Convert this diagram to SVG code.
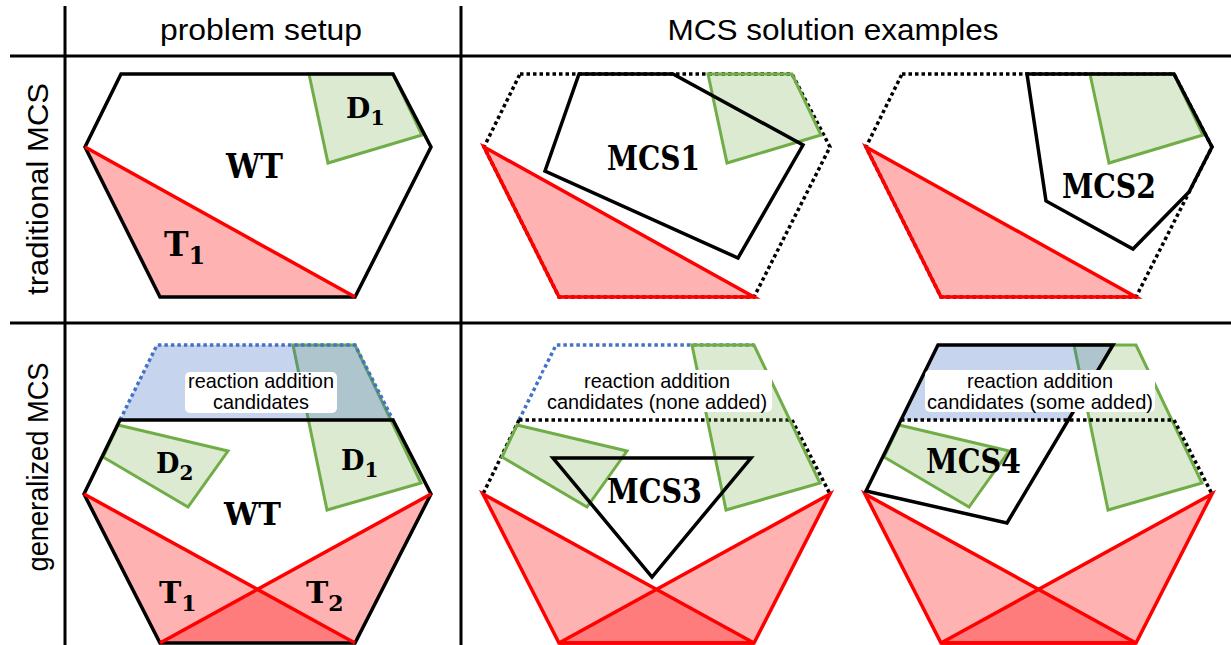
<svg xmlns="http://www.w3.org/2000/svg" width="1231" height="645" viewBox="0 0 1231 645">
<style>
.grid{stroke:#000;stroke-width:3;fill:none}
.hex{fill:none;stroke:#000;stroke-width:3.5;stroke-linejoin:miter}
.dot{fill:none;stroke:#000;stroke-width:3.5;stroke-dasharray:3.5 3}
.bdot{fill:none;stroke:#4472c4;stroke-width:3.5;stroke-dasharray:3.5 3}
.redf{fill:#ff0000;fill-opacity:.3;stroke:none}
.red{fill:#ff0000;fill-opacity:.3;stroke:#ff0000;stroke-width:3.5;stroke-linejoin:miter}
.redl{stroke:#ff0000;stroke-width:3.5;fill:none}
.grn{fill:#70ad47;fill-opacity:.25;stroke:#70ad47;stroke-width:3}
.blu{fill:#4472c4;fill-opacity:.3;stroke:none}
.mcs{fill:none;stroke:#000;stroke-width:3.5;stroke-linejoin:miter}
.box{fill:#fff;stroke:none}
.lbl{font-family:"DejaVu Serif","Liberation Serif",serif;font-weight:bold;fill:#000}
.sm{font-family:"Liberation Sans",Arial,sans-serif;font-size:21px;text-anchor:middle;fill:#000}
.hdr{font-family:"Liberation Sans",Arial,sans-serif;font-size:30px;text-anchor:middle;fill:#000}
</style>
<rect width="1231" height="645" fill="#fff"/>

<g id="grid">
  <line class="grid" x1="65" y1="6" x2="65" y2="645"/>
  <line class="grid" x1="461" y1="6" x2="461" y2="645"/>
  <line class="grid" x1="10" y1="56" x2="1231" y2="56"/>
  <line class="grid" x1="10" y1="323" x2="1231" y2="323"/>
</g>

<g id="headers">
  <text class="hdr" x="261" y="40" textLength="202" lengthAdjust="spacingAndGlyphs">problem setup</text>
  <text class="hdr" x="833" y="40" textLength="331" lengthAdjust="spacingAndGlyphs">MCS solution examples</text>
  <text class="hdr" font-size="31" transform="translate(48,189) rotate(-90)" textLength="212" lengthAdjust="spacingAndGlyphs">traditional MCS</text>
  <text class="hdr" font-size="31" transform="translate(48,467) rotate(-90)" textLength="209" lengthAdjust="spacingAndGlyphs">generalized MCS</text>
</g>

<!-- Top-left: problem setup, traditional -->
<g id="setup-traditional">
  <g id="tl-t1"><polygon class="redf" points="85,147 355,297 160,297"/></g>
  <g id="tl-d1"><polygon class="grn" points="309,74 393,74 422,135 328,163"/></g>
  <g id="tl-wt"><polygon class="hex" points="121,74 393,74 431,147 355,297 160,297 85,147"/></g>
  <line class="redl" x1="85" y1="147" x2="355" y2="297"/>
  <text class="lbl" x="226" y="178" font-size="33" textLength="57" lengthAdjust="spacingAndGlyphs">WT</text>
  <text class="lbl" x="164" y="256" font-size="33">T<tspan font-size="24" dy="8">1</tspan></text>
  <text class="lbl" x="346" y="118" font-size="28">D<tspan font-size="21" dy="7">1</tspan></text>
</g>

<!-- Top-middle: MCS1 -->
<g id="mcs1-example">
  <polygon class="dot" points="520,74 792,74 830,147 754,297 559,297 484,147"/>
  <g id="tm-t1"><polygon class="red" points="484,147 754,297 559,297"/></g>
  <g id="tm-d1"><polygon class="grn" points="708,74 792,74 821,135 727,163"/></g>
  <g id="mcs1"><polygon class="mcs" points="579,74 673,74 803,145 738,258 545,171"/></g>
  <text class="lbl" x="607" y="170" font-size="33" textLength="93" lengthAdjust="spacingAndGlyphs">MCS1</text>
</g>

<!-- Top-right: MCS2 -->
<g id="mcs2-example">
  <polygon class="dot" points="902,74 1174,74 1212,147 1136,297 941,297 866,147"/>
  <g id="tr-t1"><polygon class="red" points="866,147 1136,297 941,297"/></g>
  <g id="tr-d1"><polygon class="grn" points="1090,74 1174,74 1203,135 1109,163"/></g>
  <g id="mcs2"><polygon class="mcs" points="1027,74 1174,74 1212,147 1189,192 1133,249 1046,201"/></g>
  <text class="lbl" x="1062" y="198" font-size="33" textLength="94" lengthAdjust="spacingAndGlyphs">MCS2</text>
</g>

<!-- Bottom-left: problem setup, generalized -->
<g id="setup-generalized">
  <g id="bl-t1"><polygon class="redf" points="84,494 355,643 160,643"/></g>
  <g id="bl-t2"><polygon class="redf" points="431,494 160,643 355,643"/></g>
  <g id="bl-d1"><polygon class="grn" points="293,345 355,345 421,483 327,510"/></g>
  <g id="bl-d2"><polygon class="grn" points="118,425 228,451 188,507 103,457"/></g>
  <g id="bl-candidates">
    <polygon class="blu" points="157,345 355,345 393,420 120,420"/>
    <polyline class="bdot" points="120,420 157,345 355,345 393,420"/>
  </g>
  <g id="bl-wt"><polygon class="hex" points="120,420 393,420 431,494 355,643 160,643 84,494"/></g>
  <line class="redl" x1="84" y1="494" x2="355" y2="643"/>
  <line class="redl" x1="431" y1="494" x2="160" y2="643"/>
  <rect class="box" x="185" y="372" width="152" height="41" rx="5"/>
  <text class="sm" x="261" y="388" textLength="146" lengthAdjust="spacingAndGlyphs">reaction addition</text>
  <text class="sm" x="261" y="409" textLength="96" lengthAdjust="spacingAndGlyphs">candidates</text>
  <text class="lbl" x="224" y="525" font-size="31" textLength="57" lengthAdjust="spacingAndGlyphs">WT</text>
  <text class="lbl" x="156" y="473" font-size="27">D<tspan font-size="20" dy="7">2</tspan></text>
  <text class="lbl" x="341" y="470" font-size="27">D<tspan font-size="20" dy="7">1</tspan></text>
  <text class="lbl" x="159" y="603" font-size="30">T<tspan font-size="22" dy="8">1</tspan></text>
  <text class="lbl" x="306" y="603" font-size="30">T<tspan font-size="22" dy="8">2</tspan></text>
</g>

<!-- Bottom-middle: MCS3 -->
<g id="mcs3-example">
  <polyline class="bdot" points="519,420 556,345 754,345"/>
  <line class="dot" x1="519" y1="420" x2="792" y2="420"/>
  <line class="dot" x1="519" y1="420" x2="483" y2="494"/>
  <line class="dot" x1="792" y1="420" x2="830" y2="494"/>
  <g id="bm-d1"><polygon class="grn" points="692,345 754,345 820,483 726,510"/></g>
  <g id="bm-d2"><polygon class="grn" points="517,425 627,451 587,507 502,457"/></g>
  <g id="bm-t1"><polygon class="red" points="483,494 754,643 559,643"/></g>
  <g id="bm-t2"><polygon class="red" points="830,494 559,643 754,643"/></g>
  <g id="mcs3"><polygon class="mcs" points="553,458 751,458 652,577"/></g>
  <rect class="box" x="543" y="370" width="229" height="42" rx="5"/>
  <text class="sm" x="657" y="388" textLength="146" lengthAdjust="spacingAndGlyphs">reaction addition</text>
  <text class="sm" x="657" y="409" textLength="220" lengthAdjust="spacingAndGlyphs">candidates (none added)</text>
  <text class="lbl" x="607" y="503" font-size="33" textLength="95" lengthAdjust="spacingAndGlyphs">MCS3</text>
</g>

<!-- Bottom-right: MCS4 -->
<g id="mcs4-example">
  <g id="br-d1"><polygon class="grn" points="1074,345 1136,345 1202,483 1108,510"/></g>
  <polygon class="blu" points="938,345 1113,345 1068,420 901,420"/>
  <line class="dot" x1="901" y1="420" x2="1174" y2="420"/>
  <line class="dot" x1="1174" y1="420" x2="1212" y2="494"/>
  <g id="br-d2"><polygon class="grn" points="899,425 1009,451 969,507 884,457"/></g>
  <g id="br-t1"><polygon class="red" points="865,494 1136,643 941,643"/></g>
  <g id="br-t2"><polygon class="red" points="1212,494 941,643 1136,643"/></g>
  <g id="mcs4"><polygon class="mcs" points="938,345 1113,345 1007,523 866,491 901,420"/></g>
  <rect class="box" x="925" y="370" width="230" height="42" rx="5"/>
  <text class="sm" x="1040" y="388" textLength="146" lengthAdjust="spacingAndGlyphs">reaction addition</text>
  <text class="sm" x="1040" y="409" textLength="226" lengthAdjust="spacingAndGlyphs">candidates (some added)</text>
  <text class="lbl" x="926" y="473" font-size="33" textLength="95" lengthAdjust="spacingAndGlyphs">MCS4</text>
</g>
</svg>
